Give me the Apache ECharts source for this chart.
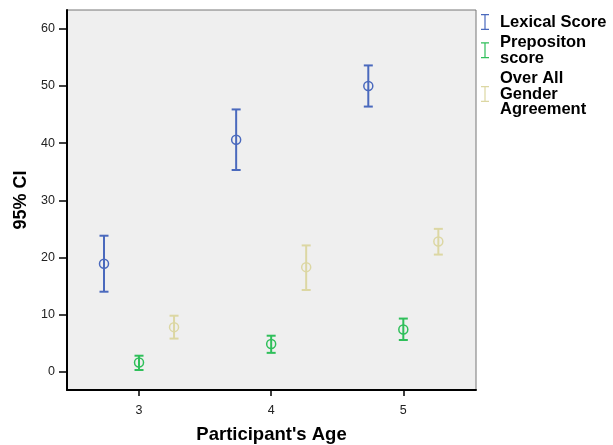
<!DOCTYPE html>
<html>
<head>
<meta charset="utf-8">
<script src="https://cdn.jsdelivr.net/npm/echarts@6/dist/echarts.min.js"></script>
<style>
  html, body { margin: 0; padding: 0; background: #ffffff; }
  #chart { width: 613px; height: 445px; }
</style>
</head>
<body>
<div id="chart"></div>
<script>
// Participant ages on the x axis
const ages = [3, 4, 5];
const yTicks = [0, 10, 20, 30, 40, 50, 60];

// Lexical Score: mean with 95% confidence interval
const lexicalMean = [18.9, 40.6, 50.0];
const lexicalLow  = [14.0, 35.3, 46.4];
const lexicalHigh = [23.8, 45.9, 53.6];

// Prepositon score
const prepMean = [1.6, 4.85, 7.4];
const prepLow  = [0.3, 3.3, 5.55];
const prepHigh = [2.8, 6.3, 9.3];

// Over All Gender Agreement
const genderMean = [7.8, 18.3, 22.8];
const genderLow  = [5.8, 14.3, 20.5];
const genderHigh = [9.8, 22.1, 25.0];

const seriesNames = ['Lexical Score', 'Prepositon\nscore', 'Over All\nGender\nAgreement'];
const colors = ['#4a69bd', '#2fbf5a', '#dcd7a3'];
const offsets = [-0.265, 0, 0.265];

function buildData(mean, low, high, off) {
  return ages.map((a, i) => [a + off, mean[i], low[i], high[i]]);
}

function renderErrorBar(color) {
  return function (params, api) {
    const x = api.value(0);
    const pMean = api.coord([x, api.value(1)]);
    const pLow = api.coord([x, api.value(2)]);
    const pHigh = api.coord([x, api.value(3)]);
    const capHalf = 4.5;
    const style = { stroke: color, lineWidth: 2, fill: null };
    return {
      type: 'group',
      children: [
        { type: 'line', shape: { x1: pHigh[0], y1: pHigh[1], x2: pLow[0], y2: pLow[1] }, style: style },
        { type: 'line', shape: { x1: pHigh[0] - capHalf, y1: pHigh[1], x2: pHigh[0] + capHalf, y2: pHigh[1] }, style: style },
        { type: 'line', shape: { x1: pLow[0] - capHalf, y1: pLow[1], x2: pLow[0] + capHalf, y2: pLow[1] }, style: style },
        { type: 'circle', shape: { cx: pMean[0], cy: pMean[1], r: 4.5 }, style: { stroke: color, lineWidth: 1.5, fill: null } }
      ]
    };
  };
}

const sets = [
  [lexicalMean, lexicalLow, lexicalHigh],
  [prepMean, prepLow, prepHigh],
  [genderMean, genderLow, genderHigh]
];

const series = sets.map((s, k) => ({
  name: seriesNames[k],
  type: 'custom',
  renderItem: renderErrorBar(colors[k]),
  itemStyle: { color: colors[k] },
  encode: { x: 0, y: [1, 2, 3] },
  data: buildData(s[0], s[1], s[2], offsets[k]),
  z: 5
}));

const iconPath = 'path://M0,0H8V1.2H4.6V14.8H8V16H0V14.8H3.4V1.2H0Z';

const chart = echarts.init(document.getElementById('chart'), null, { renderer: 'canvas' });
chart.setOption({
  animation: false,
  backgroundColor: '#ffffff',
  textStyle: { fontFamily: 'Liberation Sans, Arial, sans-serif' },
  grid: {
    left: 67, top: 10, right: 137, bottom: 55,
    outerBoundsMode: 'none',
    show: true, backgroundColor: '#efefef', borderColor: '#777777', borderWidth: 1
  },
  legend: {
    orient: 'vertical',
    left: 481, top: 13.5,
    padding: 0,
    itemWidth: 8, itemHeight: 16,
    itemGap: 3.5,
    data: seriesNames.map(n => ({ name: n, icon: iconPath })),
    textStyle: { fontSize: 16.5, fontWeight: 'bold', color: '#000', lineHeight: 15.5, padding: [0, 0, 0, 6] }
  },
  xAxis: {
    type: 'value',
    min: 2.455, max: 5.55,
    name: "Participant's Age",
    nameLocation: 'middle',
    nameGap: 35,
    nameTextStyle: { fontSize: 18.5, fontWeight: 'bold', color: '#000' },
    axisLine: { show: true, onZero: false, lineStyle: { color: '#000', width: 2 } },
    axisTick: { show: true, customValues: ages, length: 6, lineStyle: { color: '#000', width: 1.5 } },
    axisLabel: { customValues: ages, margin: 14, fontSize: 12.5, color: '#222' },
    splitLine: { show: false }
  },
  yAxis: {
    type: 'value',
    min: -3.2, max: 63.3,
    name: '95% CI',
    nameLocation: 'middle',
    nameGap: 35,
    nameTextStyle: { fontSize: 18, fontWeight: 'bold', color: '#000' },
    axisLine: { show: true, onZero: false, lineStyle: { color: '#000', width: 2 } },
    axisTick: { show: true, customValues: yTicks, length: 8, lineStyle: { color: '#000', width: 1.5 } },
    axisLabel: { customValues: yTicks, margin: 12, fontSize: 12.5, color: '#222' },
    splitLine: { show: false }
  },
  series: series
});
</script>
</body>
</html>
